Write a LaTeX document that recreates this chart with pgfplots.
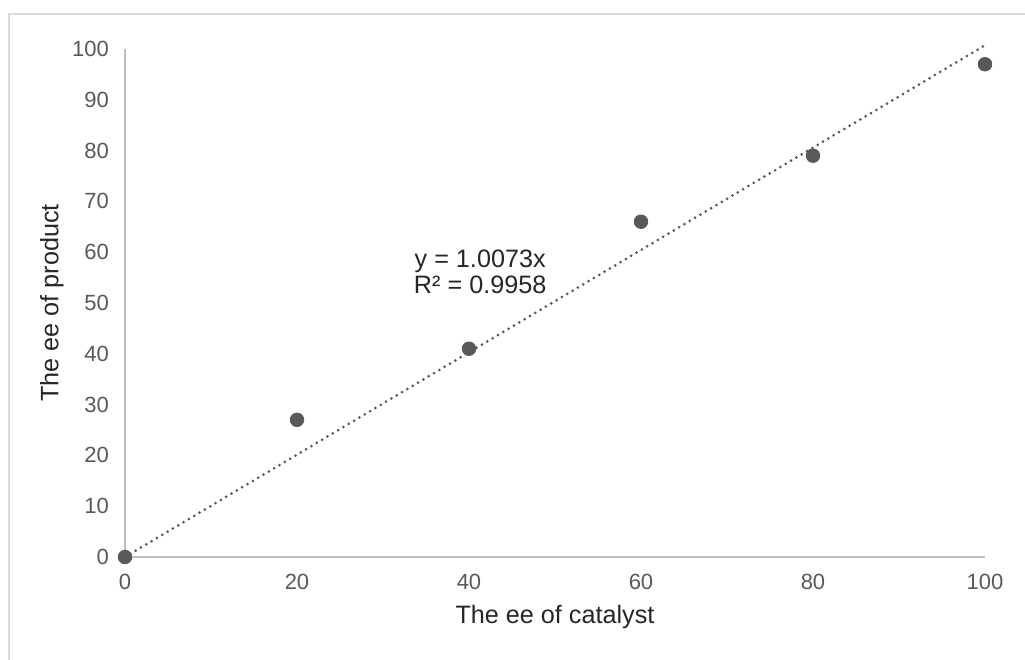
\documentclass[border=0pt]{standalone}
\usepackage{pgfplots}
\pgfplotsset{compat=1.18}
\usepackage{fontspec}
\setmainfont{Liberation Sans}
\definecolor{txt}{HTML}{595959}
\definecolor{axgray}{HTML}{BFBFBF}
\definecolor{frame}{HTML}{D9D9D9}
\begin{document}
\begin{tikzpicture}
\useasboundingbox (0pt,0pt) rectangle (512.5pt,330pt);
% outer chart border (only top and left visible)
\draw[frame, line width=1pt] (4.5pt,0pt) -- (4.5pt,323pt) -- (512.5pt,323pt);
\begin{axis}[
    at={(62.5pt,51.5pt)}, anchor=south west,
    scale only axis,
    width=430pt, height=254pt,
    xmin=0, xmax=100, ymin=0, ymax=100,
    xtick={0,20,...,100}, ytick={0,10,...,100},
    axis x line*=bottom, axis y line*=left,
    axis line style={axgray, line width=1.2pt, -},
    major tick length=0pt,
    tick label style={text=txt, font=\fontsize{11}{12}\selectfont},
    xticklabel style={yshift=-5pt},
    yticklabel style={xshift=-4.5pt},
    /pgf/number format/assume math mode=true,
    xlabel={The ee of catalyst},
    ylabel={The ee of product},
    label style={font=\fontsize{12.6}{14}\selectfont, text=black!85},
    xlabel style={yshift=-1pt},
    ylabel style={yshift=-2.5pt},
    clip=false,
]
% linear trendline through origin
\addplot[txt, line width=1.5pt, line cap=round, dash pattern=on 0pt off 3.1pt]
coordinates {(0,0) (100,100.73)};
% data
\addplot[only marks, mark=*, mark size=3.4pt, txt, mark options={fill=txt, draw=txt}]
coordinates {
    (0,0)
    (20,27)
    (40,41)
    (60,66)
    (80,79)
    (100,97)
};
\node[align=center, text=black!85, font=\fontsize{12.6}{11.5}\selectfont,
      text depth=0pt] at (axis cs:41.3,56.2)
    {y = 1.0073x\\[1.5pt]R² = 0.9958};
\end{axis}
\end{tikzpicture}
\end{document}
